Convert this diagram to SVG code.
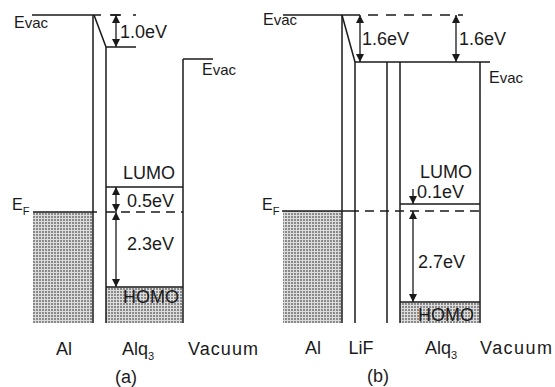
<svg xmlns="http://www.w3.org/2000/svg" width="555" height="387" viewBox="0 0 555 387">
<style>
.ln{stroke:#1a1a1a;stroke-width:1.5;fill:none}
.ds{stroke:#1a1a1a;stroke-width:1.5;fill:none;stroke-dasharray:9 6}
.ar{stroke:#1a1a1a;stroke-width:1.3;fill:none}
.t{font-family:"Liberation Sans",Arial,sans-serif;fill:#1a1a1a;font-size:18px}
.s{font-family:"Liberation Sans",Arial,sans-serif;fill:#1a1a1a;font-size:15px}
.sub{font-size:11px}
.fill{fill:url(#grid);stroke:none}
</style>
<defs>
<pattern id="grid" width="3" height="3" patternUnits="userSpaceOnUse">
<rect width="3" height="3" fill="#dcdcdc"/>
<rect width="2" height="2" fill="#8a8a8a"/>
</pattern>
<marker id="ah" viewBox="0 0 8 8" refX="8" refY="4" markerWidth="8" markerHeight="8" markerUnits="userSpaceOnUse" orient="auto-start-reverse">
<path d="M0,0 L8,4 L0,8 z" fill="#1a1a1a"/>
</marker>
</defs>
<rect width="555" height="387" fill="#fff"/>

<!-- Panel (a) -->
<g id="al-a">
<rect class="fill" x="33" y="212" width="60" height="111"/>
<line class="ln" x1="32" y1="15" x2="101" y2="15"/>
<line class="ln" x1="93" y1="15" x2="93" y2="323"/>
<line class="ln" x1="33" y1="212" x2="97" y2="212"/>
<text class="s" x="14" y="28"><tspan font-size="16">E</tspan>vac</text>
<text class="s" x="12" y="210"><tspan font-size="16">E</tspan><tspan class="sub" dy="5">F</tspan></text>
<text class="t" x="64" y="355" text-anchor="middle">Al</text>
</g>
<g id="alq3-a">
<rect class="fill" x="106" y="287" width="77" height="36"/>
<line class="ln" x1="94" y1="15" x2="106" y2="47"/>
<line class="ln" x1="106" y1="47" x2="106" y2="323"/>
<line class="ln" x1="106" y1="47" x2="136" y2="47"/>
<line class="ln" x1="110" y1="15" x2="136" y2="15" stroke-dasharray="10 13 3"/>
<line class="ln" x1="183" y1="59" x2="183" y2="323"/>
<line class="ln" x1="106" y1="187" x2="183" y2="187"/>
<line class="ds" x1="106" y1="212" x2="183" y2="212"/>
<line class="ln" x1="106" y1="287" x2="183" y2="287"/>
<text class="t" x="123" y="179">LUMO</text>
<text class="t" x="123" y="303">HOMO</text>
<text class="t" x="122" y="355">Alq<tspan class="sub" font-size="13" dy="5">3</tspan></text>
</g>
<g id="vacuum-a">
<line class="ln" x1="183" y1="59" x2="213" y2="59"/>
<text class="s" x="202" y="75"><tspan font-size="16">E</tspan>vac</text>
<text class="t" x="188" y="355" textLength="70">Vacuum</text>
<text class="t" x="126" y="383" text-anchor="middle">(a)</text>
</g>

<!-- Panel (b) -->
<g id="al-b">
<rect class="fill" x="283" y="211" width="59" height="112"/>
<line class="ln" x1="283" y1="15" x2="350" y2="15"/>
<line class="ln" x1="342" y1="15" x2="342" y2="323"/>
<line class="ln" x1="282" y1="211" x2="350" y2="211"/>
<text class="s" x="263" y="25"><tspan font-size="16">E</tspan>vac</text>
<text class="s" x="262" y="210"><tspan font-size="16">E</tspan><tspan class="sub" dy="5">F</tspan></text>
<text class="t" x="313" y="354" text-anchor="middle">Al</text>
</g>
<g id="lif-b">
<line class="ln" x1="342" y1="15" x2="355" y2="62"/>
<line class="ln" x1="355" y1="62" x2="355" y2="323"/>
<line class="ln" x1="387" y1="62" x2="387" y2="323"/>
<text class="t" x="361" y="354" text-anchor="middle">LiF</text>
</g>
<g id="alq3-b">
<rect class="fill" x="400" y="302" width="80" height="21"/>
<line class="ln" x1="400" y1="62" x2="400" y2="323"/>
<line class="ln" x1="480" y1="62" x2="480" y2="323"/>
<line class="ln" x1="400" y1="204" x2="480" y2="204"/>
<line class="ln" x1="400" y1="302" x2="480" y2="302"/>
<text class="t" x="420" y="178" font-size="19">LUMO</text>
<text class="t" x="418" y="321" font-size="19">HOMO</text>
<text class="t" x="425" y="354">Alq<tspan class="sub" font-size="13" dy="5">3</tspan></text>
</g>
<g id="vacuum-b">
<line class="ln" x1="355" y1="62" x2="490" y2="62"/>
<line class="ln" x1="350" y1="15" x2="463" y2="15" stroke-dasharray="10 8"/>
<line class="ds" x1="350" y1="211" x2="480" y2="211"/>
<text class="s" x="489" y="83"><tspan font-size="16">E</tspan>vac</text>
<text class="t" x="480" y="354" textLength="72">Vacuum</text>
<text class="t" x="378" y="382" text-anchor="middle">(b)</text>
</g>

<!-- Connectors / energy arrows -->
<g id="connectors">
<line class="ln" x1="111" y1="15" x2="121" y2="15"/>
<line class="ar" x1="116" y1="15" x2="116" y2="47" marker-start="url(#ah)" marker-end="url(#ah)"/>
<line class="ar" x1="116" y1="187" x2="116" y2="212" marker-start="url(#ah)" marker-end="url(#ah)"/>
<line class="ar" x1="116" y1="212" x2="116" y2="287" marker-start="url(#ah)" marker-end="url(#ah)"/>
<line class="ar" x1="360" y1="15" x2="360" y2="62" marker-start="url(#ah)" marker-end="url(#ah)"/>
<line class="ar" x1="456" y1="15" x2="456" y2="62" marker-start="url(#ah)" marker-end="url(#ah)"/>
<line class="ar" x1="413" y1="189" x2="413" y2="204" marker-end="url(#ah)"/>
<line class="ar" x1="413" y1="211" x2="413" y2="302" marker-start="url(#ah)" marker-end="url(#ah)"/>
<text class="t" x="120" y="38">1.0eV</text>
<text class="t" x="127" y="207">0.5eV</text>
<text class="t" x="127" y="250">2.3eV</text>
<text class="t" x="362" y="45">1.6eV</text>
<text class="t" x="459" y="45">1.6eV</text>
<text class="t" x="417" y="198" font-size="17">0.1eV</text>
<text class="t" x="418" y="268">2.7eV</text>
</g>
</svg>
